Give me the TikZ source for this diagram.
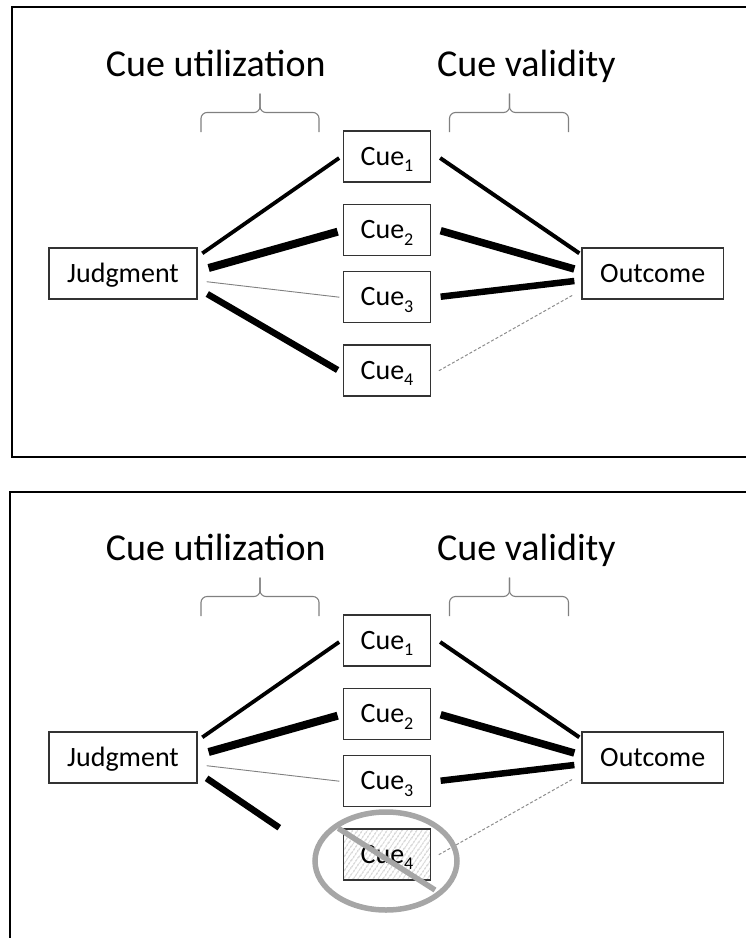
\documentclass[tikz,border=0pt]{standalone}
\usepackage{fontspec}
\setmainfont{Carlito}
\usetikzlibrary{calc,patterns.meta,shapes.geometric}

% "Cue" with a lowered index
\newcommand\cuelabel[1]{Cue\raisebox{-6.7pt}{\fontsize{18}{18}\selectfont #1}}

% Parts shared by both panels: headings, brackets, nodes and the links
% that are the same in both (the fourth cue is added per panel)
\newcommand\drawpanelbase{%
  \node[heading] (hu) at (215.8,76.7) {Cue utilization};
  \node[heading] (hv) at (526.4,76.7) {Cue validity};
  \draw[bracket] (201,132) -- (201,112.5) -- (260,112.5) -- (260,93.5);
  \draw[bracket] (319,132) -- (319,112.5) -- (260,112.5) -- (260,93.5);
  \draw[bracket] (449.5,132) -- (449.5,112.5) -- (509.5,112.5) -- (509.5,93.5);
  \draw[bracket] (568.5,132) -- (568.5,112.5) -- (509.5,112.5) -- (509.5,93.5);
  \node[box, minimum width=148pt] (j) at (123,273.5) {Judgment};
  \node[box, minimum width=141.5pt] (o) at (652.7,273.5) {Outcome};
  \node[cuebox] (c1) at (387,156.5) {\cuelabel{1}};
  \node[cuebox] (c2) at (387,230) {\cuelabel{2}};
  \node[cuebox] (c3) at (387,297.2) {\cuelabel{3}};
  \draw[tie=3.8pt] ($(j.east)+(4.7,-20.2)$) -- ($(c1.west)+(-3.5,1.5)$);
  \draw[tie=8pt]   ($(j.east)+(11,-5.5)$)   -- ($(c2.west)+(-5,1.7)$);
  \draw[weak]      ($(j.east)+(9,8.2)$)     -- ($(c3.west)+(-3.3,0)$);
  \draw[tie=4pt]   ($(c1.east)+(8.8,1.5)$)  -- ($(o.west)+(-2,-20.2)$);
  \draw[tie=7.5pt] ($(c2.east)+(9.3,0.7)$)  -- ($(o.west)+(-7,-4.5)$);
  \draw[tie=6.5pt] ($(c3.east)+(9.3,-0.5)$) -- ($(o.west)+(-7,7.5)$);
}

\begin{document}
\begin{tikzpicture}[x=1pt,y=-1pt,
  box/.style={draw=black!80, line width=1.2pt, inner sep=0pt,
    minimum height=51pt, text height=20pt, text depth=3pt,
    font=\fontsize{28}{28}\selectfont},
  cuebox/.style={box, minimum width=87.5pt},
  heading/.style={anchor=base, inner sep=0pt, font=\fontsize{38}{38}\selectfont},
  bracket/.style={draw=black!50, line width=1.1pt, rounded corners=6pt},
  panel/.style={draw=black, line width=2pt},
  tie/.style={line width=#1},
  tie/.default=4pt,
  weak/.style={line width=0.9pt, black!50},
  faint/.style={line width=1pt, black!45, dash pattern=on 3pt off 2pt},
  hatched/.style={pattern={Lines[angle=55,distance=4pt,line width=0.8pt]},
    pattern color=black!40},
  ban/.style={draw=black!35, line width=5.5pt},
]
\useasboundingbox (0,0) rectangle (746,938);
\clip (0,0) rectangle (746,938);

% upper panel: all four cues in use
\begin{scope}[name prefix=top-]
  \draw[panel] (11.7,6.7) rectangle (770,456.7);
  \drawpanelbase
  \node[cuebox] (c4) at (387,370.5) {\cuelabel{4}};
  \draw[tie=6.5pt] ($(j.east)+(9.7,20.5)$) -- ($(c4.west)+(-5,-0.5)$);
  \draw[faint] ($(c4.east)+(7.6,0.2)$) -- ($(o.west)+(-8.4,21.5)$);
\end{scope}

% lower panel: the fourth cue is removed
\begin{scope}[yshift=-484pt, name prefix=bot-]
  \draw[panel] (10,7.7) rectangle (770,470);
  \drawpanelbase
  \node[cuebox, hatched] (c4) at (387,370.5) {\cuelabel{4}};
  \coordinate (cut) at (279.3,343.7);
  \draw[tie=6.5pt] ($(j.east)+(9,20.8)$) -- (cut);
  \draw[faint] ($(c4.east)+(7.6,0.2)$) -- ($(o.west)+(-8.4,21.5)$);
  \node[ban, ellipse, minimum width=142pt, minimum height=98pt, inner sep=0pt]
    (no) at (386,377) {};
  \coordinate (s1) at (338.3,344.3);
  \coordinate (s2) at (435,406);
  \draw[ban] (s1) -- (s2);
\end{scope}
\end{tikzpicture}
\end{document}
